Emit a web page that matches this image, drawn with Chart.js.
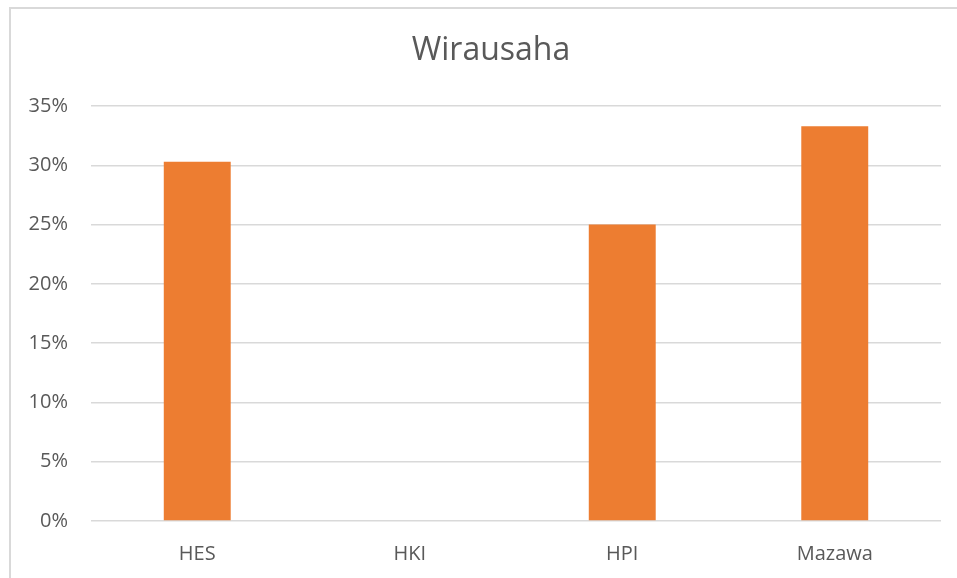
<!DOCTYPE html>
<html>
<head>
<meta charset="utf-8">
<script src="https://cdn.jsdelivr.net/npm/chart.js@4/dist/chart.umd.min.js"></script>
<style>
  html, body { margin: 0; padding: 0; background: #fff; }
  #wrap { position: relative; width: 957px; height: 578px; overflow: hidden; }
  #frame { position: absolute; left: 9px; top: 7px; right: -4px; bottom: -4px;
           border-left: 2px solid #d9d9d9; border-top: 2px solid #d9d9d9; }
  canvas { position: absolute; left: 0; top: 0; }
</style>
</head>
<body>
<div id="wrap">
  <div id="frame"></div>
  <canvas id="c" width="957" height="578"></canvas>
</div>
<script>
const categories = ["HES", "HKI", "HPI", "Mazawa"];
const wirausahaValues = [30.3, 0, 25.0, 33.3];
const yTicks = [0, 5, 10, 15, 20, 25, 30, 35];
const chartTitle = "Wirausaha";

const textColor = "#595959";
const fontFamily = "'Open Sans', 'Liberation Sans', sans-serif";

// centre the title like the reference (slightly right of canvas centre)
const titleShift = {
  id: "titleShift",
  afterLayout(chart) {
    if (chart.titleBlock) {
      chart.titleBlock.left = 41;
    }
  }
};

new Chart(document.getElementById("c"), {
  type: "bar",
  data: {
    labels: categories,
    datasets: [{
      label: chartTitle,
      data: wirausahaValues,
      backgroundColor: "#ED7D31",
      borderWidth: 0,
      barPercentage: 0.315,
      categoryPercentage: 1.0
    }]
  },
  plugins: [titleShift],
  options: {
    responsive: false,
    animation: false,
    devicePixelRatio: 1,
    layout: { padding: { left: 0, right: 16, top: 0, bottom: 0 } },
    plugins: {
      legend: { display: false },
      tooltip: { enabled: false },
      title: {
        display: true,
        text: chartTitle,
        color: textColor,
        font: { family: fontFamily, size: 32, weight: "normal", lineHeight: 1.2 },
        padding: { top: 32, bottom: 35.6 }
      }
    },
    scales: {
      x: {
        grid: { display: false, drawTicks: false },
        border: { display: false },
        ticks: { color: textColor, font: { family: fontFamily, size: 20 }, padding: 21 },
        afterFit: (s) => { s.height = 57; }
      },
      y: {
        min: 0,
        max: 35,
        afterBuildTicks: (s) => { s.ticks = yTicks.map(v => ({ value: v })); },
        grid: { color: "#d9d9d9", lineWidth: 1.5, drawTicks: false },
        border: { display: false },
        ticks: {
          color: textColor,
          font: { family: fontFamily, size: 20 },
          padding: 23,
          callback: (v) => v + "%"
        },
        afterFit: (s) => { s.width = 91; }
      }
    }
  }
});
</script>
</body>
</html>
